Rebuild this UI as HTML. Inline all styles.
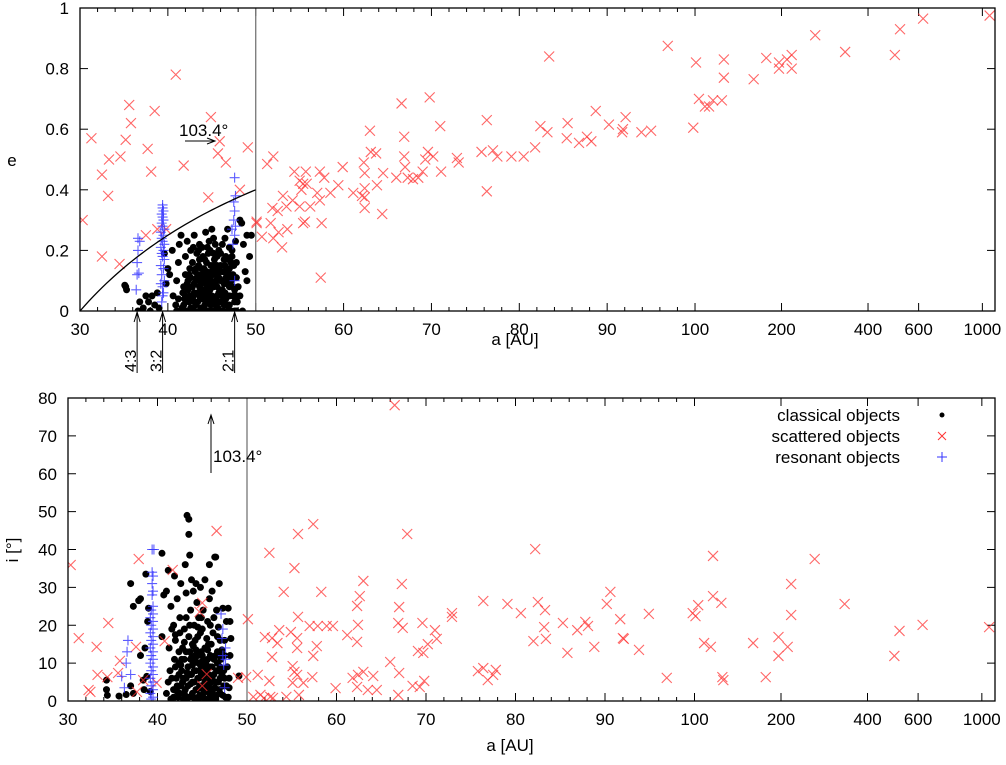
<!DOCTYPE html>
<html><head><meta charset="utf-8"><style>
body{margin:0;background:#fff}
svg{display:block;font-family:"Liberation Sans",sans-serif}
</style></head><body>
<svg id="chart" width="1006" height="765" viewBox="0 0 1006 765" xmlns="http://www.w3.org/2000/svg"></svg>
<script>
// ---- data (a [AU], e) top panel ----
const classicalE = [[35.2,.08],[35.3,.07],[35.1,.085],[36.6,0],[37.2,.01],[37.8,.03],[38.2,.05],[38.5,.02],[38.8,.06],[37.5,.05],[38,0],[39,.01],[36.8,.03],[39.8,.09],[40.2,.12],[40.5,.2],[39.6,.19],[40,.14],[40.6,.05],[40.9,.02],[41,.1],[41.2,.16],[41.5,.25],[41.3,.22],[42,.18],[42.2,.23],[42.6,.2],[41.8,.08],[43,.25],[43.6,.22],[44.3,.26],[44.8,.2],[45.2,.24],[45.6,.18],[46.2,.22],[46.8,.27],[47.3,.2],[47.8,.16],[48.4,.29],[48.2,.3],[48.6,.22],[49,.25],[49.5,.25],[48.8,.13],[49.3,.18],[48,.08],[49,.1],[47.9,.03],
[41.6,.01],[41.9,.04],[42.1,0],[42.3,.07],[42.4,.03],[42.6,.11],[42.7,0],[42.9,.05],[43,.09],[43.1,.13],[43.2,.02],[43.4,.06],[43.5,.15],[43.6,0],[43.7,.1],[43.8,.04],[43.9,.12],[44,.07],[44.1,.01],[44.2,.17],[44.2,.1],[44.3,.04],[44.4,.13],[44.5,0],[44.5,.08],[44.6,.19],[44.7,.05],[44.8,.11],[44.9,.02],[44.9,.15],[45,.08],[45.1,.12],[45.2,.04],[45.3,0],[45.3,.17],[45.4,.09],[45.5,.14],[45.6,.05],[45.7,.01],[45.8,.11],[45.9,.07],[46,.15],[46.1,.03],[46.2,.1],[46.3,0],[46.4,.13],[46.5,.06],[46.6,.18],[46.7,.02],[46.8,.09],[47,.05],[47.1,.12],[47.2,0],[47.4,.08],[47.5,.15],[47.6,.03],[47.8,.11],[43.3,.19],[42.8,.16],[42.5,.14],[42,.12],[41.7,.06],[43.9,.21],[44.7,.23],[45.8,.2],[46.9,.17],[47.7,.23],[45,.27],[42.3,.1],[43.6,.08],[44.4,.03],[45.5,.1],[46.2,.05],[46.9,.11],[44.1,.14],[45.9,.13],[43,.03],[47.3,.18],[42.9,.21],[48.2,.05],[48.5,0],[41.2,.04],[41.4,0],[42.9,0],[44,0],[45.9,0],[46.8,0],[47.6,0],[41,0],[43.3,.11],[44.6,.06],[45.2,.15],[46.4,.09],[47,.14],
[41.8,.02],[42,.05],[42.2,.09],[42.4,.12],[42.6,.01],[42.8,.04],[42.8,.08],[43,0],[43,.06],[43.2,.1],[43.2,.14],[43.4,.03],[43.4,.12],[43.6,.05],[43.6,.17],[43.8,.01],[43.8,.09],[43.8,.14],[44,.04],[44,.11],[44.2,.02],[44.2,.06],[44.4,.09],[44.4,.16],[44.6,0],[44.6,.12],[44.8,.03],[44.8,.07],[45,0],[45,.05],[45,.13],[45.2,.08],[45.2,.19],[45.4,.02],[45.4,.12],[45.6,.08],[45.6,.15],[45.8,.03],[45.8,.06],[46,0],[46,.1],[46.2,.07],[46.2,.13],[46.4,.02],[46.4,.17],[46.6,.04],[46.6,.11],[46.8,0],[46.8,.13],[47,.08],[47,.02],[47.2,.1],[47.2,.16],[47.4,.05],[47.4,.12],[47.6,.07],[47.8,0],[47.8,.05],[43.5,.2],[44,.18],[44.5,.21],[45.4,.22],[46,.19],[46.5,.24],[47,.21],[42.5,.05],[43.9,.06],[45.7,.03],[44.9,.1],[46.5,.15]];
const scatteredE = [[30.3,.30],[31.3,.57],[32.5,.45],[33.3,.50],[33.2,.38],[32.5,.18],[34.6,.51],[34.5,.155],[35.2,.565],[35.8,.62],[35.6,.68],[37.7,.535],[38.1,.46],[37.5,.25],[38.5,.66],[38.8,.27],[40.9,.78],[41.8,.48],[44.6,.375],[44.9,.64],[45.9,.56],[45.7,.52],[46.6,.49],[48.2,.40],[49.1,.54],[39.8,.27],[50.1,.295],
[51.3,.485],[52,.51],[50.1,.29],[50.7,.245],[51.7,.29],[52,.24],[53,.21],[52.6,.26],[53.6,.27],[51.9,.34],[52.5,.33],[53.1,.38],[53.5,.345],[54.2,.365],[55,.345],[54.4,.46],[55.7,.46],[55,.43],[55.4,.42],[55.8,.42],[55.2,.40],[55.4,.29],[55.6,.295],[56.2,.345],[57,.39],[57.3,.365],[57.3,.46],[57.8,.44],[57.5,.29],[57.4,.11],[58.5,.39],[59.4,.415],[59.9,.475],[61.1,.39],[62.1,.38],[62.4,.405],[62.4,.375],[62.4,.34],[62.3,.49],[62.4,.455],[63,.595],[63.1,.525],[63.7,.52],[64.4,.32],[63.8,.415],[64.5,.455],[66,.44],[66.6,.685],[66.9,.575],[66.9,.51],[67,.475],[67.3,.44],[67.9,.435],[68.5,.44],[69,.46],[69.3,.50],[69.6,.525],[70.2,.51],[69.8,.705],[71,.61],[71.1,.46],[72.9,.505],[73.1,.49],[75.7,.525],[76.3,.63],[76.3,.395],[77,.53],[77.5,.51],[79.1,.51],[80.5,.51],[81.8,.54],[82.4,.61],[83.2,.59],[83.4,.84],[85.5,.62],[85.4,.57],[86.8,.555],[87.7,.575],[88.2,.56],[88.7,.66],[90.2,.615],[91.7,.59],[92.1,.64],
[91.8,.60],[93.9,.59],[95,.595],[96.9,.875],[99.8,.605],[100.8,.82],[103.2,.70],[108.3,.675],[111.9,.675],[115.5,.695],[124,.695],[126,.77],[126,.83],[160,.765],[177,.835],[196,.82],[196,.80],[209,.83],[217,.845],[217,.80],[262,.91],[333,.855],[496,.845],[517,.93],[622,.965],[1060,.975]];
const resonantE = [[39.3,.03],[39.5,.06],[39.2,.09],[39.6,.1],[39.3,.12],[39.5,.14],[39.2,.15],[39.6,.17],[39.4,.18],[39.3,.19],[39.5,.2],[39.2,.21],[39.6,.22],[39.4,.23],[39.3,.24],[39.5,.25],[39.2,.26],[39.6,.27],[39.4,.28],[39.3,.29],[39.5,.3],[39.4,.31],[39.3,.32],[39.5,.33],[39.4,.34],[39.4,.35],[39.4,.08],[39.4,.05],
[36.4,.07],[36.5,.12],[36.7,.125],[36.5,.16],[36.6,.2],[36.8,.23],[36.6,.24],[47.6,.1],[47.4,.22],[47.6,.25],[47.3,.27],[47.7,.28],[47.5,.3],[47.6,.33],[47.5,.36],[47.7,.38],[47.6,.44]];
// ---- data (a [AU], i [deg]) bottom panel ----
const classicalI = [[34.3,3],[34.4,1.5],[34.3,5.5],[35.7,1.3],[36.5,1.7],[37,4],[37.3,2],[37,31],[37.3,25],[37.9,26.5],[38.1,27],[38.1,12],[38.4,5.5],[38.7,33.5],[38.9,21],[39,24.5],[38.8,6.5],[38.5,3],[39.2,2.5],[38.6,14],
[40.5,39],[40.5,17],[40.7,28],[41,29],[41.2,34.5],[41.5,25],[41.8,20],[41.9,33],[42,16],[42.2,27],[42.4,10],[42.5,22],[42.6,31],[42.8,5],[43,19],[43.1,36],[43.2,28.5],[43.3,49],[43.5,44],[43.5,48],[43.6,38.5],[43.7,24],[43.8,32],[43.9,15],[44,29],[44.1,20],[44.2,11],[44.3,31],[44.4,26],[44.5,17],[44.6,22],[44.7,8],[44.8,30],[44.9,13],[45,19],[45.1,24],[45.3,32],[45.4,10],[45.6,21],[45.7,15],[45.8,27],[46,6],[46.1,29],[46.2,18],[46.4,38],[46.5,12],[46.6,24],[46.8,19.5],[46.9,31],[47,9],[47.3,24.5],[47.5,16],[47.7,21],[47.9,24.5],[48,3.5],[48.1,12],[48.2,16.5],[48.1,21],[49.1,6.6],[46.5,38],[45.8,36],
[41,2],[41.2,5],[41.4,8],[41.5,.5],[41.8,3],[41.9,11],[42.1,6],[42.3,1],[42.4,13],[42.6,4],[42.7,8],[42.9,.5],[43,11],[43.1,3],[43.2,6],[43.4,9],[43.5,1],[43.6,13],[43.7,4.5],[43.8,7],[43.9,2],[44,10],[44.1,5],[44.2,.5],[44.3,8],[44.4,3],[44.5,12],[44.6,6],[44.7,1.5],[44.8,9.5],[44.9,4],[45,7],[45.1,1],[45.2,11],[45.3,5],[45.4,2.5],[45.5,8],[45.6,13.5],[45.7,4],[45.8,.5],[45.9,9],[46,2.5],[46.1,6],[46.3,11],[46.4,3.5],[46.5,.5],[46.6,8],[46.8,5],[46.9,12],[47,2],[47.2,7],[47.4,4],[47.6,1],[47.8,9],[48,6],[41.3,14],[42,17.5],[44,14.5],[45.5,16.5],[43,15.5],[42.2,2.5],[43.3,7.5],[44.6,1],[45,10.5],[46.2,1.5],[46.7,10],[47.5,6],[43.8,11.5],[42.6,9.5],[45.9,5.5],
[41.6,6],[41.8,1],[42,9],[42.2,4],[42.4,7],[42.5,2],[42.7,11],[42.9,6],[43,2],[43.2,13],[43.3,1],[43.4,4],[43.6,7],[43.7,11],[43.9,5],[44,1],[44.1,8],[44.2,12],[44.3,3],[44.5,6],[44.6,10],[44.7,4],[44.8,1],[44.9,7],[45,12],[45.1,3],[45.2,6],[45.3,9],[45.4,.5],[45.5,4],[45.6,11],[45.7,7],[45.8,2],[45.9,12],[46,5],[46.1,9],[46.2,3],[46.3,7],[46.5,5],[46.6,1.5],[46.7,13],[46.8,8],[46.9,3],[47,6],[47.1,11],[47.3,1.5],[47.4,8],[47.5,12],[47.7,4],[47.9,1],[43.5,17],[44.2,16],[44.8,18],[45.3,14],[46,15],[46.7,17],[42.8,14],[43.6,20],[44.5,19.5],[45.9,20],[47,16],[42.5,18],[43.2,22],[44.9,22],[46.3,22],[41.6,19],[47.2,13.5],[44.3,13.5],[45,1.5],[43.9,9.5]];
const scatteredI = [[66.5,78.1],[57.4,46.7],[55.7,44.1],[67.9,44.1],[52.5,39.1],[55.3,35.1],[82.2,40.1],[63,31.7],[67.3,30.9],[54.1,28.8],[58.3,28.8],[62.6,27.7],[62.3,25.1],[67,24.8],[76.4,26.4],[79.1,25.6],[82.5,26.1],[90.6,28.8],[90.2,25.6],[80.6,23.2],[83.3,24],[72.9,23.2],[72.9,22.2],[50.1,21.6],[55.7,22.2],[57,19.8],[57.9,19.8],[58.9,19.8],[59.6,19.8],[62.4,20.1],[66.9,20.6],[67.4,19.3],[69.6,20.6],[71,18.7],[83.2,19.5],[85.3,20.6],[86.9,18.7],[87.8,20.9],[88.1,19.8],[91.7,21.6],[92.1,16.4],[52,16.9],[52.8,16.6],[53.6,18.7],[53.4,15.3],[54.9,18.2],[55.6,16.6],[55.6,14],[57.8,14.5],[57.4,11.9],[52.8,11.6],[61.2,17.4],[62.3,15.6],[71.2,16.4],[70.2,15],[69.1,13.2],[69.7,12.7],[82,15.8],[83.4,16.4],[85.8,12.7],[88.8,14.3],[55.1,9.2],[55.3,7.7],[55.6,6.9],[55.1,4.8],[56.3,4.8],[57.3,6.3],[51.2,6.9],[52.5,5.3],[61.8,6.1],[63,7.7],[62.4,6.9],[64.1,6.6],[62.3,3.7],[63.5,2.9],[64.5,2.9],[59.9,3.4],[66,10.3],[67,7.4],[66.9,1.6],[68.5,4],[69.3,3.7],[69.8,5.3],[75.8,7.9],[76.4,8.7],[76.9,5.5],[77.5,6.9],[77.8,8.2],[50.7,1.1],[51.5,1.6],[51.9,.8],[52.6,1.1],[52.9,.8],[54.4,1.1],[55.8,1.6],[49.9,6.3],
[92,16.6],[93.8,13.5],[94.9,23],[96.9,6.1],[99.8,23.2],[100.8,22.4],[103,25.3],[108,15.3],[114,14.3],[116,27.7],[124,25.9],[116,38.3],[125,6.3],[126,5.5],[160,15.3],[177,6.3],[196,16.9],[196,11.9],[211,14.3],[217,30.9],[217,22.7],[262,37.5],[333,25.6],[496,11.9],[517,18.5],[622,20.1],[1060,19.5],
[30.3,35.9],[31.2,16.6],[33.2,14.3],[33.3,6.9],[34.5,20.6],[32.3,2.9],[32.5,2.4],[34.4,6.3],[35.6,7.4],[35.8,10.6],[37.6,14.3],[37.9,37.5],[38.4,5.5],[37.7,2.4],[39.9,4.8],[41.7,34.6],[40.8,15.8],[46.6,44.9],[45,25.9],[44.7,23.5],[45.5,7.1],[45,4],[49,6.1]];
const resonantI = [[39.3,.5],[39.5,1],[39.2,2],[39.5,3],[39.3,4],[39.5,5],[39.2,6],[39.5,7],[39.3,8],[39.5,9],[39.2,10],[39.5,11],[39.3,12],[39.5,13],[39.2,14],[39.5,15],[39.3,16],[39.5,17],[39.2,18],[39.5,19],[39.3,20],[39.5,21],[39.2,22],[39.5,23],[39.3,24],[39.5,25],[39.4,28],[39.5,29],[39.4,31],[39.5,33],[39.4,34],[39.4,40],[39.6,40],
[36.3,3.5],[36,6.5],[36.5,10],[36.6,13],[36.7,16],[37,7],[47.5,3.5],[47.3,12],[47.6,14],[47.2,16.5],[47.3,19],[47.1,23],[47.6,11],[47.4,9.5]];
const linearTicks = [30,40,50,60,70,80,90,100];
const logTicks = [200,400,600,1000];
const eTicks = [0,0.2,0.4,0.6,0.8,1];
const eTickLabels = ["0","0.2","0.4","0.6","0.8","1"];
const iTicks = [0,10,20,30,40,50,60,70,80];
const resonances = [36.5,39.4,47.6];
const resonanceLabels = ["4:3","3:2","2:1"];

const NS="http://www.w3.org/2000/svg";
const svg=document.getElementById('chart');
function mk(tag,attrs,parent){const el=document.createElementNS(NS,tag);for(const k in attrs)el.setAttribute(k,attrs[k]);(parent||svg).appendChild(el);return el;}

function makeX(left,px10){
  const p100=left+7*px10;
  return a=> a<=100 ? left+(a-30)*px10/10 : p100+Math.log2(a/100)*86.5;
}
const panels=[
 {name:'eccentricity-panel',left:80,right:995,top:8,bottom:311,xf:makeX(80,87.86),ymax:1,ticks:eTicks,labels:eTickLabels,cl:classicalE,sc:scatteredE,rs:resonantE},
 {name:'inclination-panel',left:68,right:995,top:398,bottom:701,xf:makeX(68,89.5),ymax:80,ticks:iTicks,labels:iTicks.map(String),cl:classicalI,sc:scatteredI,rs:resonantI}
];

panels.forEach((P,pi)=>{
  const g=mk('g',{});
  
  
  const y=v=>P.bottom-(v/P.ymax)*(P.bottom-P.top);
  const x=P.xf;
  const cp=mk('clipPath',{id:'clip'+pi},g);
  mk('rect',{x:P.left,y:P.top,width:P.right-P.left,height:P.bottom-P.top},cp);
  const tg=mk('g',{stroke:'#000','stroke-width':1},g);
  
  
  for(let a=30;a<=100;a+=2){const big=a%10===0;const L=big?8:4;const px=x(a);
    mk('line',{x1:px,x2:px,y1:P.bottom,y2:P.bottom-L},tg);mk('line',{x1:px,x2:px,y1:P.top,y2:P.top+L},tg);}
  logTicks.forEach(a=>{const px=x(a);mk('line',{x1:px,x2:px,y1:P.bottom,y2:P.bottom-8},tg);mk('line',{x1:px,x2:px,y1:P.top,y2:P.top+8},tg);});
  P.ticks.forEach(v=>{const py=y(v);mk('line',{x1:P.left,x2:P.left+8,y1:py,y2:py},tg);mk('line',{x1:P.right,x2:P.right-8,y1:py,y2:py},tg);});
  linearTicks.concat(logTicks).forEach(a=>{const t=mk('text',{x:x(a),y:P.bottom+24,'text-anchor':'middle','font-size':17},g);t.textContent=a;
    });
  P.ticks.forEach((v,k)=>{const t=mk('text',{x:P.left-11,y:y(v)+6,'text-anchor':'end','font-size':17},g);t.textContent=P.labels[k];
    });
  const xt=mk('text',{x:pi?510:515,y:P.bottom+(pi?50:34),'text-anchor':'middle','font-size':17},g);xt.textContent='a [AU]';
  
  mk('line',{x1:x(50),x2:x(50),y1:P.top,y2:P.bottom,stroke:'#777','stroke-width':1.3},g);
  const pts=mk('g',{'clip-path':'url(#clip'+pi+')'},g);
  const cg=mk('g',{fill:'#000'},pts);
  
  P.cl.forEach(d=>{const c=mk('circle',{cx:x(d[0]),cy:y(d[1]),r:3.5},cg);
    });
  const sg=mk('g',{stroke:'#f33','stroke-width':1.1,'stroke-opacity':0.75,fill:'none'},pts);
  
  P.sc.forEach(d=>{const cx=x(d[0]),cy=y(d[1]),s=5;const p=mk('path',{d:`M${cx-s},${cy-s}L${cx+s},${cy+s}M${cx-s},${cy+s}L${cx+s},${cy-s}`},sg);
    });
  const rg=mk('g',{stroke:'#33f','stroke-width':1.1,'stroke-opacity':0.8,fill:'none'},pts);
  
  P.rs.forEach(d=>{const cx=x(d[0]),cy=y(d[1]),s=5;const p=mk('path',{d:`M${cx-s},${cy}L${cx+s},${cy}M${cx},${cy-s}L${cx},${cy+s}`},rg);
    });
  const fr=mk('rect',{x:P.left,y:P.top,width:P.right-P.left,height:P.bottom-P.top,fill:'none',stroke:'#000','stroke-width':1.3},g);
  
  P.y=y;
});

const T=panels[0];
let dstr='';for(let a=30;a<=50;a+=0.5){dstr+=(a===30?'M':'L')+T.xf(a)+','+T.y(1-30/a);}
const curve=mk('path',{d:dstr,fill:'none',stroke:'#000','stroke-width':1.3});

resonances.forEach((a,k)=>{const px=T.xf(a);
  const l=mk('path',{d:`M${px},373L${px},312M${px-3},322L${px},312L${px+3},322`,fill:'none',stroke:'#000','stroke-width':1});
  
  const t=mk('text',{x:0,y:0,'font-size':16,transform:`translate(${px-1},372) rotate(-90)`});t.textContent=resonanceLabels[k];
  });
const ey=mk('text',{x:12,y:166,'text-anchor':'middle','font-size':17});ey.textContent='e';

const ta=mk('text',{x:179,y:136,'font-size':17});ta.textContent='103.4°';

const ar=mk('path',{d:'M185,141L215,141M207,138L215,141L207,144',fill:'none',stroke:'#000','stroke-width':1});


const iy=mk('text',{x:0,y:0,'text-anchor':'middle','font-size':17,transform:'translate(18,550) rotate(-90)'});iy.textContent='i [°]';

const ar2=mk('path',{d:'M211,473L211,415M208,424L211,415L214,424',fill:'none',stroke:'#000','stroke-width':1});

const tb=mk('text',{x:213,y:462,'font-size':17});tb.textContent='103.4°';


const lg=mk('g',{});

const names=['classical objects','scattered objects','resonant objects'];
names.forEach((n,k)=>{const cy=415+k*21;
  const t=mk('text',{x:900,y:cy+6,'text-anchor':'end','font-size':17},lg);t.textContent=n;
  
  if(k===0)mk('circle',{cx:942,cy:cy,r:2.5,fill:'#000'},lg);
  if(k===1)mk('path',{d:`M938,${cy-4}L946,${cy+4}M938,${cy+4}L946,${cy-4}`,stroke:'#f33','stroke-width':1},lg);
  if(k===2)mk('path',{d:`M937,${cy}L947,${cy}M942,${cy-5}L942,${cy+5}`,stroke:'#33f','stroke-width':1},lg);
});
</script>
</body></html>
